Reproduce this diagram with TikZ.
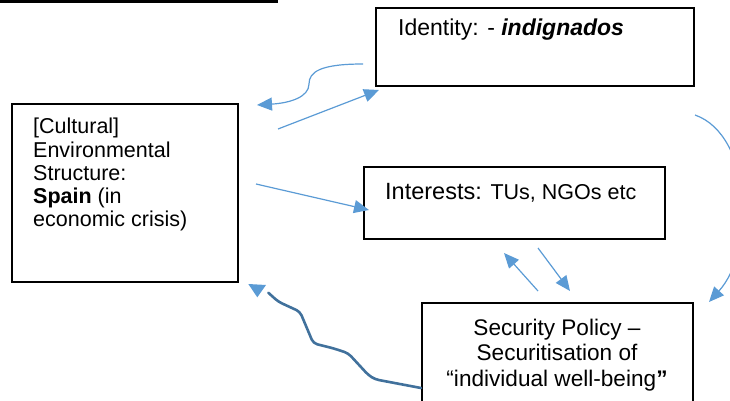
\documentclass[tikz,border=0pt]{standalone}
\usepackage{fontspec}
\setmainfont{Liberation Sans}
\usetikzlibrary{arrows.meta}
\definecolor{linkblue}{HTML}{5B9BD5}
\definecolor{wireblue}{HTML}{41719C}
\begin{document}
\begin{tikzpicture}[x=1pt,y=-1pt,
  box/.style={draw=black, line width=2pt, rectangle, inner sep=0pt},
  txt/.style={inner sep=0pt, text=black},
  link/.style={draw=linkblue, line width=1.2pt, -{Triangle[length=15pt,width=13pt]}},
  wire/.style={draw=wireblue, line width=2.6pt, rounded corners=4pt, line cap=round},
  headfill/.style={fill=linkblue, draw=none}
]
\useasboundingbox (0,0) rectangle (730,401);
\clip (0,0) rectangle (730,401);

% rule at the top
\fill[black] (0,0) rectangle (278,3.3);

% boxes
\node[box, minimum width=318pt, minimum height=78pt] (identity) at (535,47) {};
\node[box, minimum width=226pt, minimum height=178pt] (env) at (125,193) {};
\node[box, minimum width=301pt, minimum height=72pt] (interests) at (514.5,203) {};
\node[box, minimum width=271pt, minimum height=110pt] (policy) at (557.5,358) {};

% texts
\node[txt, anchor=base west, font=\fontsize{23}{27}\selectfont] (identitytxt) at (398,36)
  {Identity: - \textbf{\textit{indignados}}};
\node[txt, anchor=base west] (intereststxt) at (385,199)
  {\fontsize{23.5}{27}\selectfont Interests: \fontsize{21.5}{25}\selectfont TUs, NGOs etc};
\node[txt, anchor=north west, align=left, font=\fontsize{21.5}{23.3}\selectfont] (envtxt) at (33,118)
  {[Cultural]\\ Environmental\\ Structure:\\ \textbf{Spain} (in\\ economic crisis)};
\node[txt, anchor=north, align=center, font=\fontsize{22.6}{25.5}\selectfont] (policytxt) at (557,318.5)
  {Security Policy –\\ Securitisation of\\ “individual well-being\textbf{”}};

% connector end points
\coordinate (backtip) at (257,105);
\coordinate (identfrom) at (363,64);
\coordinate (envout) at (278,129);
\coordinate (identin) at (379,90);
\coordinate (envout2) at (256,184);
\coordinate (intin) at (369,210);
\coordinate (upfrom) at (538,291);
\coordinate (uptip) at (504,253);
\coordinate (downfrom) at (538,248);
\coordinate (downtip) at (570,291);
\coordinate (arcfrom) at (695,115);
\coordinate (arctip) at (709,302);
\coordinate (wireend) at (268.3,292.7);

% connectors
\draw[link] (identfrom) .. controls (320,64) and (309,72) .. (309,84)
  .. controls (309,97) and (290,103) .. (backtip);
\draw[link] (envout) -- (identin);
\draw[link] (envout2) -- (intin);
\draw[link] (upfrom) -- (uptip);
\draw[link] (downfrom) -- (downtip);
\draw[link] (arcfrom) .. controls (752,135) and (756,250) .. (arctip);

% hand-drawn feedback line to the structure box
\draw[wire] (policy.west |- 0,388) -- (375,379.3) -- (368.3,375) -- (348.3,353.3)
  -- (333.3,348.3) -- (313.3,343.3) -- (300,311.7) -- (278.3,301.7) -- (wireend);
\fill[headfill] (248.3,284) -- (266,285) -- (257.3,297.3) -- cycle;
\end{tikzpicture}
\end{document}
